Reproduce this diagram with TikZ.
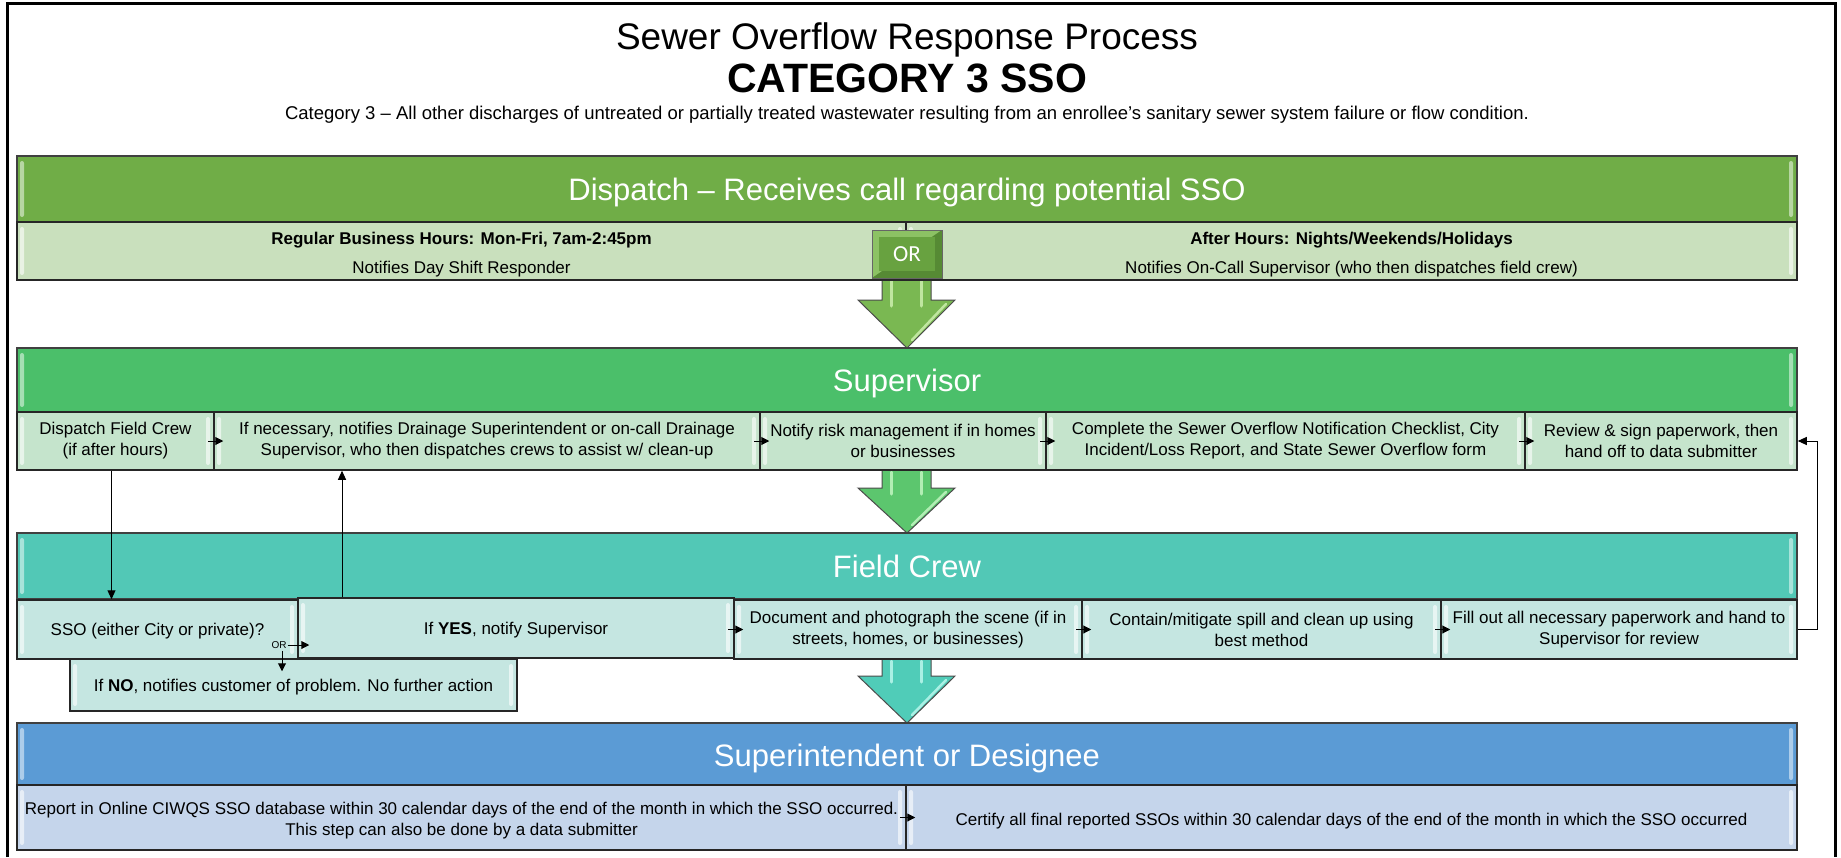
\documentclass[tikz,border=0pt]{standalone}
\usepackage{fontspec}
\setmainfont{Liberation Sans}
\newfontfamily\orfont{Carlito}
\usetikzlibrary{arrows.meta}

\definecolor{dispHead}{RGB}{112,173,71}
\definecolor{dispCell}{RGB}{201,224,189}
\definecolor{supHead}{RGB}{75,191,106}
\definecolor{supCell}{RGB}{197,228,204}
\definecolor{crewHead}{RGB}{82,200,182}
\definecolor{crewCell}{RGB}{197,230,225}
\definecolor{desHead}{RGB}{91,155,213}
\definecolor{desCell}{RGB}{197,213,235}
\definecolor{orFace}{RGB}{104,162,64}
\definecolor{orLight}{RGB}{140,194,100}
\definecolor{orDark}{RGB}{86,138,52}
\definecolor{arrA}{RGB}{122,184,82}
\definecolor{arrAlight}{RGB}{192,230,160}
\definecolor{arrB}{RGB}{92,198,110}
\definecolor{arrBlight}{RGB}{178,238,180}
\definecolor{arrC}{RGB}{80,204,184}
\definecolor{arrClight}{RGB}{170,240,228}

% block arrow between two bands: #1 shaft top, #2 head base, #3 tip, #4 fill, #5 streak colour
\newcommand\blockarrow[5]{%
  \filldraw[draw=black!70, line width=1pt, fill=#4]
    (882,#1) -- (882,#2) -- (858,#2) -- (907,#3) -- (955,#2) -- (931,#2) -- (931,#1) -- cycle;
  \draw[#5, line width=3pt, line cap=round] (891,{#1+4}) -- (891,{#2+6});
  \draw[#5, line width=3pt, line cap=round] (921,{#1+4}) -- (921,{#2+6});
  \draw[#5, line width=2.5pt, line cap=round] (946,{#2+4}) -- (912,{#3-8});
}

\begin{document}
\begin{tikzpicture}[x=1pt,y=-1pt,
  bevel/.style={path picture={
    \fill[white,opacity=#1,rounded corners=2pt]
      ([xshift=3pt,yshift=-5pt]path picture bounding box.north west) rectangle
      ([xshift=7pt,yshift=5pt]path picture bounding box.south west);
    \fill[white,opacity=#1,rounded corners=2pt]
      ([xshift=-8pt,yshift=-5pt]path picture bounding box.north east) rectangle
      ([xshift=-4pt,yshift=5pt]path picture bounding box.south east);
  }},
  header/.style={draw=black!75, line width=1.5pt, fill=#1, text=white, inner sep=0pt,
    minimum width=1780pt, text height=22.2pt, text depth=0pt,
    font=\fontsize{31}{36}\selectfont, bevel=0.5},
  cell/.style={draw=black!85, line width=1.5pt, fill=#1, inner sep=0pt, align=center,
    font=\fontsize{17}{21}\selectfont, bevel=0.6},
  oneline/.style={text height=12.2pt, text depth=0pt},
  orstyle/.style={draw=black!60, line width=1pt, fill=orLight, inner sep=0pt,
    minimum width=70pt, minimum height=48pt, text=white,
    font=\orfont\fontsize{23}{26}\selectfont,
    path picture={
      \fill[orDark] (path picture bounding box.north east) -- (path picture bounding box.south east)
        -- (path picture bounding box.south west) -- cycle;
      \fill[orFace] ([shift={(7pt,-7pt)}]path picture bounding box.north west) rectangle
        ([shift={(-7pt,7pt)}]path picture bounding box.south east);
    }},
  conn/.style={draw=black, line width=1pt, -{Triangle[length=9pt,width=8pt]}},
  tick/.style={draw=black, line width=1pt, -{Triangle[length=8pt,width=8pt]}},
]
\useasboundingbox (0,0) rectangle (1841,857);
\fill[white] (0,0) rectangle (1841,857);

% page frame
\draw[line width=3pt] (7,857) -- (7,3) -- (1835,3) -- (1835,857);

% titles
\node (title) at (907,39.5) {\fontsize{37}{44}\selectfont Sewer Overflow Response Process};
\node (cat) at (907,78) {\fontsize{41}{48}\selectfont\bfseries CATEGORY 3 SSO};
\node (subtitle) at (907,115) {\fontsize{18.5}{22}\selectfont Category 3 – All other discharges of untreated or partially treated wastewater resulting from an enrollee’s sanitary sewer system failure or flow condition.};

% block arrows between the bands
\blockarrow{276}{300}{348}{arrA}{arrAlight}
\blockarrow{468}{488}{533}{arrB}{arrBlight}
\blockarrow{657}{676}{723}{arrC}{arrClight}

% Dispatch band
\node[header=dispHead, minimum height=66pt] (hdA) at (907,189) {Dispatch – Receives call regarding potential SSO};
\node[cell=dispCell, minimum width=889pt, minimum height=58pt] (dA1) at (461.5,251)
  {\rule{0pt}{19.4pt}\textbf{Regular Business Hours: Mon-Fri, 7am-2:45pm}\\[8pt]Notifies Day Shift Responder};
\node[cell=dispCell, minimum width=891pt, minimum height=58pt] (dA2) at (1351.5,251)
  {\rule{0pt}{19.4pt}\textbf{After Hours: Nights/Weekends/Holidays}\\[8pt]Notifies On-Call Supervisor (who then dispatches field crew)};
\node[orstyle] (orbox) at (907,254) {OR};

% Supervisor band
\node[header=supHead, minimum height=64pt] (hdB) at (907,380) {Supervisor};
\node[cell=supCell, minimum width=197pt, minimum height=58pt] (s1) at (115.5,441)
  {Dispatch Field Crew\\(if after hours)};
\node[cell=supCell, minimum width=546pt, minimum height=58pt] (s2) at (487,441)
  {If necessary, notifies Drainage Superintendent or on-call Drainage\\Supervisor, who then dispatches crews to assist w/ clean-up};
\node[cell=supCell, minimum width=286pt, minimum height=58pt] (s3) at (903,441)
  {Notify risk management if in homes\\or businesses};
\node[cell=supCell, minimum width=479pt, minimum height=58pt] (s4) at (1285.5,441)
  {Complete the Sewer Overflow Notification Checklist, City\\Incident/Loss Report, and State Sewer Overflow form};
\node[cell=supCell, minimum width=272pt, minimum height=58pt] (s5) at (1661,441)
  {Review \& sign paperwork, then\\hand off to data submitter};

% Field Crew band
\node[header=crewHead, minimum height=66pt] (hdC) at (907,566) {Field Crew};
\node[cell=crewCell, oneline, minimum width=447pt, minimum height=52pt] (fno) at (293.5,685)
  {If \textbf{NO}, notifies customer of problem. No further action};
\node[cell=crewCell, oneline, minimum width=281pt, minimum height=59pt] (f1) at (157.5,629.5)
  {SSO (either City or private)?};
\node[cell=crewCell, oneline, minimum width=436pt, minimum height=60pt] (f2) at (516,628)
  {If \textbf{YES}, notify Supervisor};
\node[cell=crewCell, minimum width=348pt, minimum height=59pt] (f3) at (908,629.5)
  {Document and photograph the scene (if in\\streets, homes, or businesses)};
\node[cell=crewCell, minimum width=359pt, minimum height=59pt] (f4) at (1261.5,629.5)
  {Contain/mitigate spill and clean up using\\best method};
\node[cell=crewCell, minimum width=356pt, minimum height=59pt] (f5) at (1619,629.5)
  {Fill out all necessary paperwork and hand to\\Supervisor for review};

% Superintendent band
\node[header=desHead, text height=25pt, minimum height=62pt] (hdD) at (907,754) {Superintendent or Designee};
\node[cell=desCell, minimum width=889pt, minimum height=65pt] (e1) at (461.5,817.5)
  {\rule{0pt}{18.4pt}Report in Online CIWQS SSO database within 30 calendar days of the end of the month in which the SSO occurred.\\This step can also be done by a data submitter};
\node[cell=desCell, text height=15pt, text depth=0pt, minimum width=891pt, minimum height=65pt] (e2) at (1351.5,817.5)
  {Certify all final reported SSOs within 30 calendar days of the end of the month in which the SSO occurred};

% step-to-step arrows inside the bands
\foreach \b in {s2,s3,s4,s5,f3,f4,f5,e2}
  \draw[tick] ([xshift=-5pt]\b.west) -- ([xshift=10pt]\b.west);

% OR branch out of the SSO question
\node[inner sep=0pt, font=\fontsize{10}{12}\selectfont] (ortxt) at (279,645) {OR};
\draw[tick] ([xshift=1pt]ortxt.east) -- ([xshift=12pt]ortxt.east -| f2.west);
\draw[tick] ([xshift=3pt,yshift=-2pt]ortxt.south) -- ([xshift=3pt,yshift=-13pt]ortxt.south |- fno.north);

% connectors between the Supervisor and Field Crew bands
\draw[conn] ([xshift=-4pt]s1.south) -- ([xshift=-4pt]s1.south |- f1.north);
\draw[conn] ([xshift=-174pt]f2.north) -- ([xshift=-174pt]f2.north |- s2.south);
\draw[conn] (f5.east) -- ++(20,0) |- (s5.east);
\end{tikzpicture}
\end{document}
